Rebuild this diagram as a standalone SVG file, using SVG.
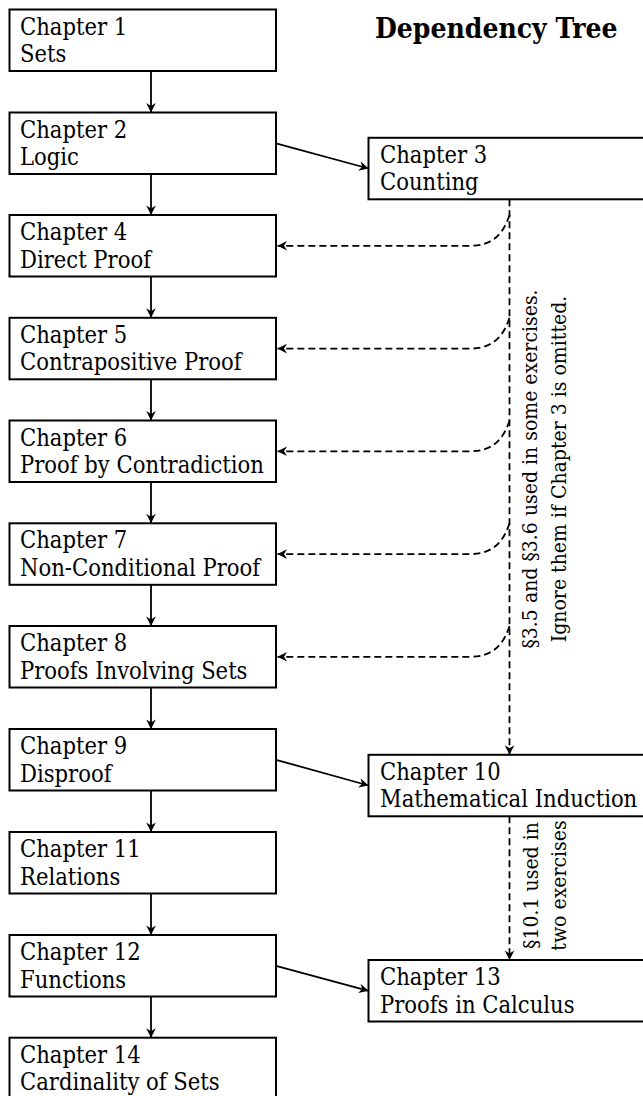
<svg xmlns="http://www.w3.org/2000/svg" width="643" height="1096" viewBox="0 0 643 1096">
<style>
.box{fill:#fff;stroke:#000;stroke-width:2}
.t{font-family:"DejaVu Serif Condensed","DejaVu Serif",serif;font-stretch:condensed;font-size:23.5px;fill:#000}
.title{font-family:"DejaVu Serif Condensed","DejaVu Serif",serif;font-stretch:condensed;font-size:28px;font-weight:bold;fill:#000}
.lab{font-family:"DejaVu Serif Condensed","DejaVu Serif",serif;font-stretch:condensed;font-size:21px;fill:#000;text-anchor:middle}
.e{fill:none;stroke:#000;stroke-width:1.8;marker-end:url(#ah)}
.d{fill:none;stroke:#000;stroke-width:1.8;stroke-dasharray:7 4;marker-end:url(#ah)}
</style>
<defs>
<marker id="ah" markerUnits="userSpaceOnUse" viewBox="-11 -6 12 12" refX="0" refY="0" markerWidth="12" markerHeight="12" orient="auto">
<path d="M0,0 L-9.5,-4.8 L-6.5,0 L-9.5,4.8 Z" fill="#000"/>
</marker>
</defs>
<rect width="643" height="1096" fill="#fff"/>
<text class="title" x="375" y="38">Dependency Tree</text>
<g id="connectors">
<line class="e" x1="151" y1="71" x2="151" y2="112.5"/>
<line class="e" x1="151" y1="174" x2="151" y2="215"/>
<line class="e" x1="151" y1="276.5" x2="151" y2="317.8"/>
<line class="e" x1="151" y1="379.3" x2="151" y2="420.5"/>
<line class="e" x1="151" y1="482" x2="151" y2="523.3"/>
<line class="e" x1="151" y1="584.8" x2="151" y2="626"/>
<line class="e" x1="151" y1="687.5" x2="151" y2="729"/>
<line class="e" x1="151" y1="790.5" x2="151" y2="832"/>
<line class="e" x1="151" y1="893.5" x2="151" y2="935"/>
<line class="e" x1="151" y1="996.5" x2="151" y2="1037.7"/>
<line class="e" x1="276" y1="143.3" x2="368.5" y2="168.5"/>
<line class="e" x1="276" y1="759.8" x2="368.5" y2="785.5"/>
<line class="e" x1="276" y1="965.8" x2="368.5" y2="990.8"/>
<line class="d" x1="509.5" y1="199.3" x2="509.5" y2="754.8"/>
<line class="d" x1="509.5" y1="816.3" x2="509.5" y2="960"/>
<path class="d" d="M509.5,215 C504,232 494,245.8 470,245.8 L277.5,245.8"/>
<path class="d" d="M509.5,317.8 C504,334.8 494,348.6 470,348.6 L277.5,348.6"/>
<path class="d" d="M509.5,420.5 C504,437.5 494,451.3 470,451.3 L277.5,451.3"/>
<path class="d" d="M509.5,523.3 C504,540.3 494,554.1 470,554.1 L277.5,554.1"/>
<path class="d" d="M509.5,626 C504,643 494,656.8 470,656.8 L277.5,656.8"/>
</g>
<g id="n1"><rect class="box" x="9.5" y="9.5" width="266.5" height="61.5"/><text class="t" x="20" y="34.5">Chapter 1</text><text class="t" x="20" y="62">Sets</text></g>
<g id="n2"><rect class="box" x="9.5" y="112.5" width="266.5" height="61.5"/><text class="t" x="20" y="137.5">Chapter 2</text><text class="t" x="20" y="165">Logic</text></g>
<g id="n3"><rect class="box" x="368.5" y="137.8" width="300" height="61.5"/><text class="t" x="380" y="162.8">Chapter 3</text><text class="t" x="380" y="190.3">Counting</text></g>
<g id="n4"><rect class="box" x="9.5" y="215" width="266.5" height="61.5"/><text class="t" x="20" y="240">Chapter 4</text><text class="t" x="20" y="267.5">Direct Proof</text></g>
<g id="n5"><rect class="box" x="9.5" y="317.8" width="266.5" height="61.5"/><text class="t" x="20" y="342.8">Chapter 5</text><text class="t" x="20" y="370.3">Contrapositive Proof</text></g>
<g id="n6"><rect class="box" x="9.5" y="420.5" width="266.5" height="61.5"/><text class="t" x="20" y="445.5">Chapter 6</text><text class="t" x="20" y="473">Proof by Contradiction</text></g>
<g id="n7"><rect class="box" x="9.5" y="523.3" width="266.5" height="61.5"/><text class="t" x="20" y="548.3">Chapter 7</text><text class="t" x="20" y="575.8">Non-Conditional Proof</text></g>
<g id="n8"><rect class="box" x="9.5" y="626" width="266.5" height="61.5"/><text class="t" x="20" y="651">Chapter 8</text><text class="t" x="20" y="678.5">Proofs Involving Sets</text></g>
<g id="n9"><rect class="box" x="9.5" y="729" width="266.5" height="61.5"/><text class="t" x="20" y="754">Chapter 9</text><text class="t" x="20" y="781.5">Disproof</text></g>
<g id="n10"><rect class="box" x="368.5" y="754.8" width="300" height="61.5"/><text class="t" x="380" y="779.8">Chapter 10</text><text class="t" x="380" y="807.3">Mathematical Induction</text></g>
<g id="n11"><rect class="box" x="9.5" y="832" width="266.5" height="61.5"/><text class="t" x="20" y="857">Chapter 11</text><text class="t" x="20" y="884.5">Relations</text></g>
<g id="n12"><rect class="box" x="9.5" y="935" width="266.5" height="61.5"/><text class="t" x="20" y="960">Chapter 12</text><text class="t" x="20" y="987.5">Functions</text></g>
<g id="n13"><rect class="box" x="368.5" y="960" width="300" height="61.5"/><text class="t" x="380" y="985">Chapter 13</text><text class="t" x="380" y="1012.5">Proofs in Calculus</text></g>
<g id="n14"><rect class="box" x="9.5" y="1037.7" width="266.5" height="61.5"/><text class="t" x="20" y="1062.7">Chapter 14</text><text class="t" x="20" y="1090.2">Cardinality of Sets</text></g>
<g id="labels">
<text class="lab" transform="translate(537,469) rotate(-90)">§3.5 and §3.6 used in some exercises.</text>
<text class="lab" transform="translate(565.5,469) rotate(-90)">Ignore them if Chapter 3 is omitted.</text>
<text class="lab" transform="translate(538,885.5) rotate(-90)">§10.1 used in</text>
<text class="lab" transform="translate(565.5,885.5) rotate(-90)">two exercises</text>
</g>
</svg>
